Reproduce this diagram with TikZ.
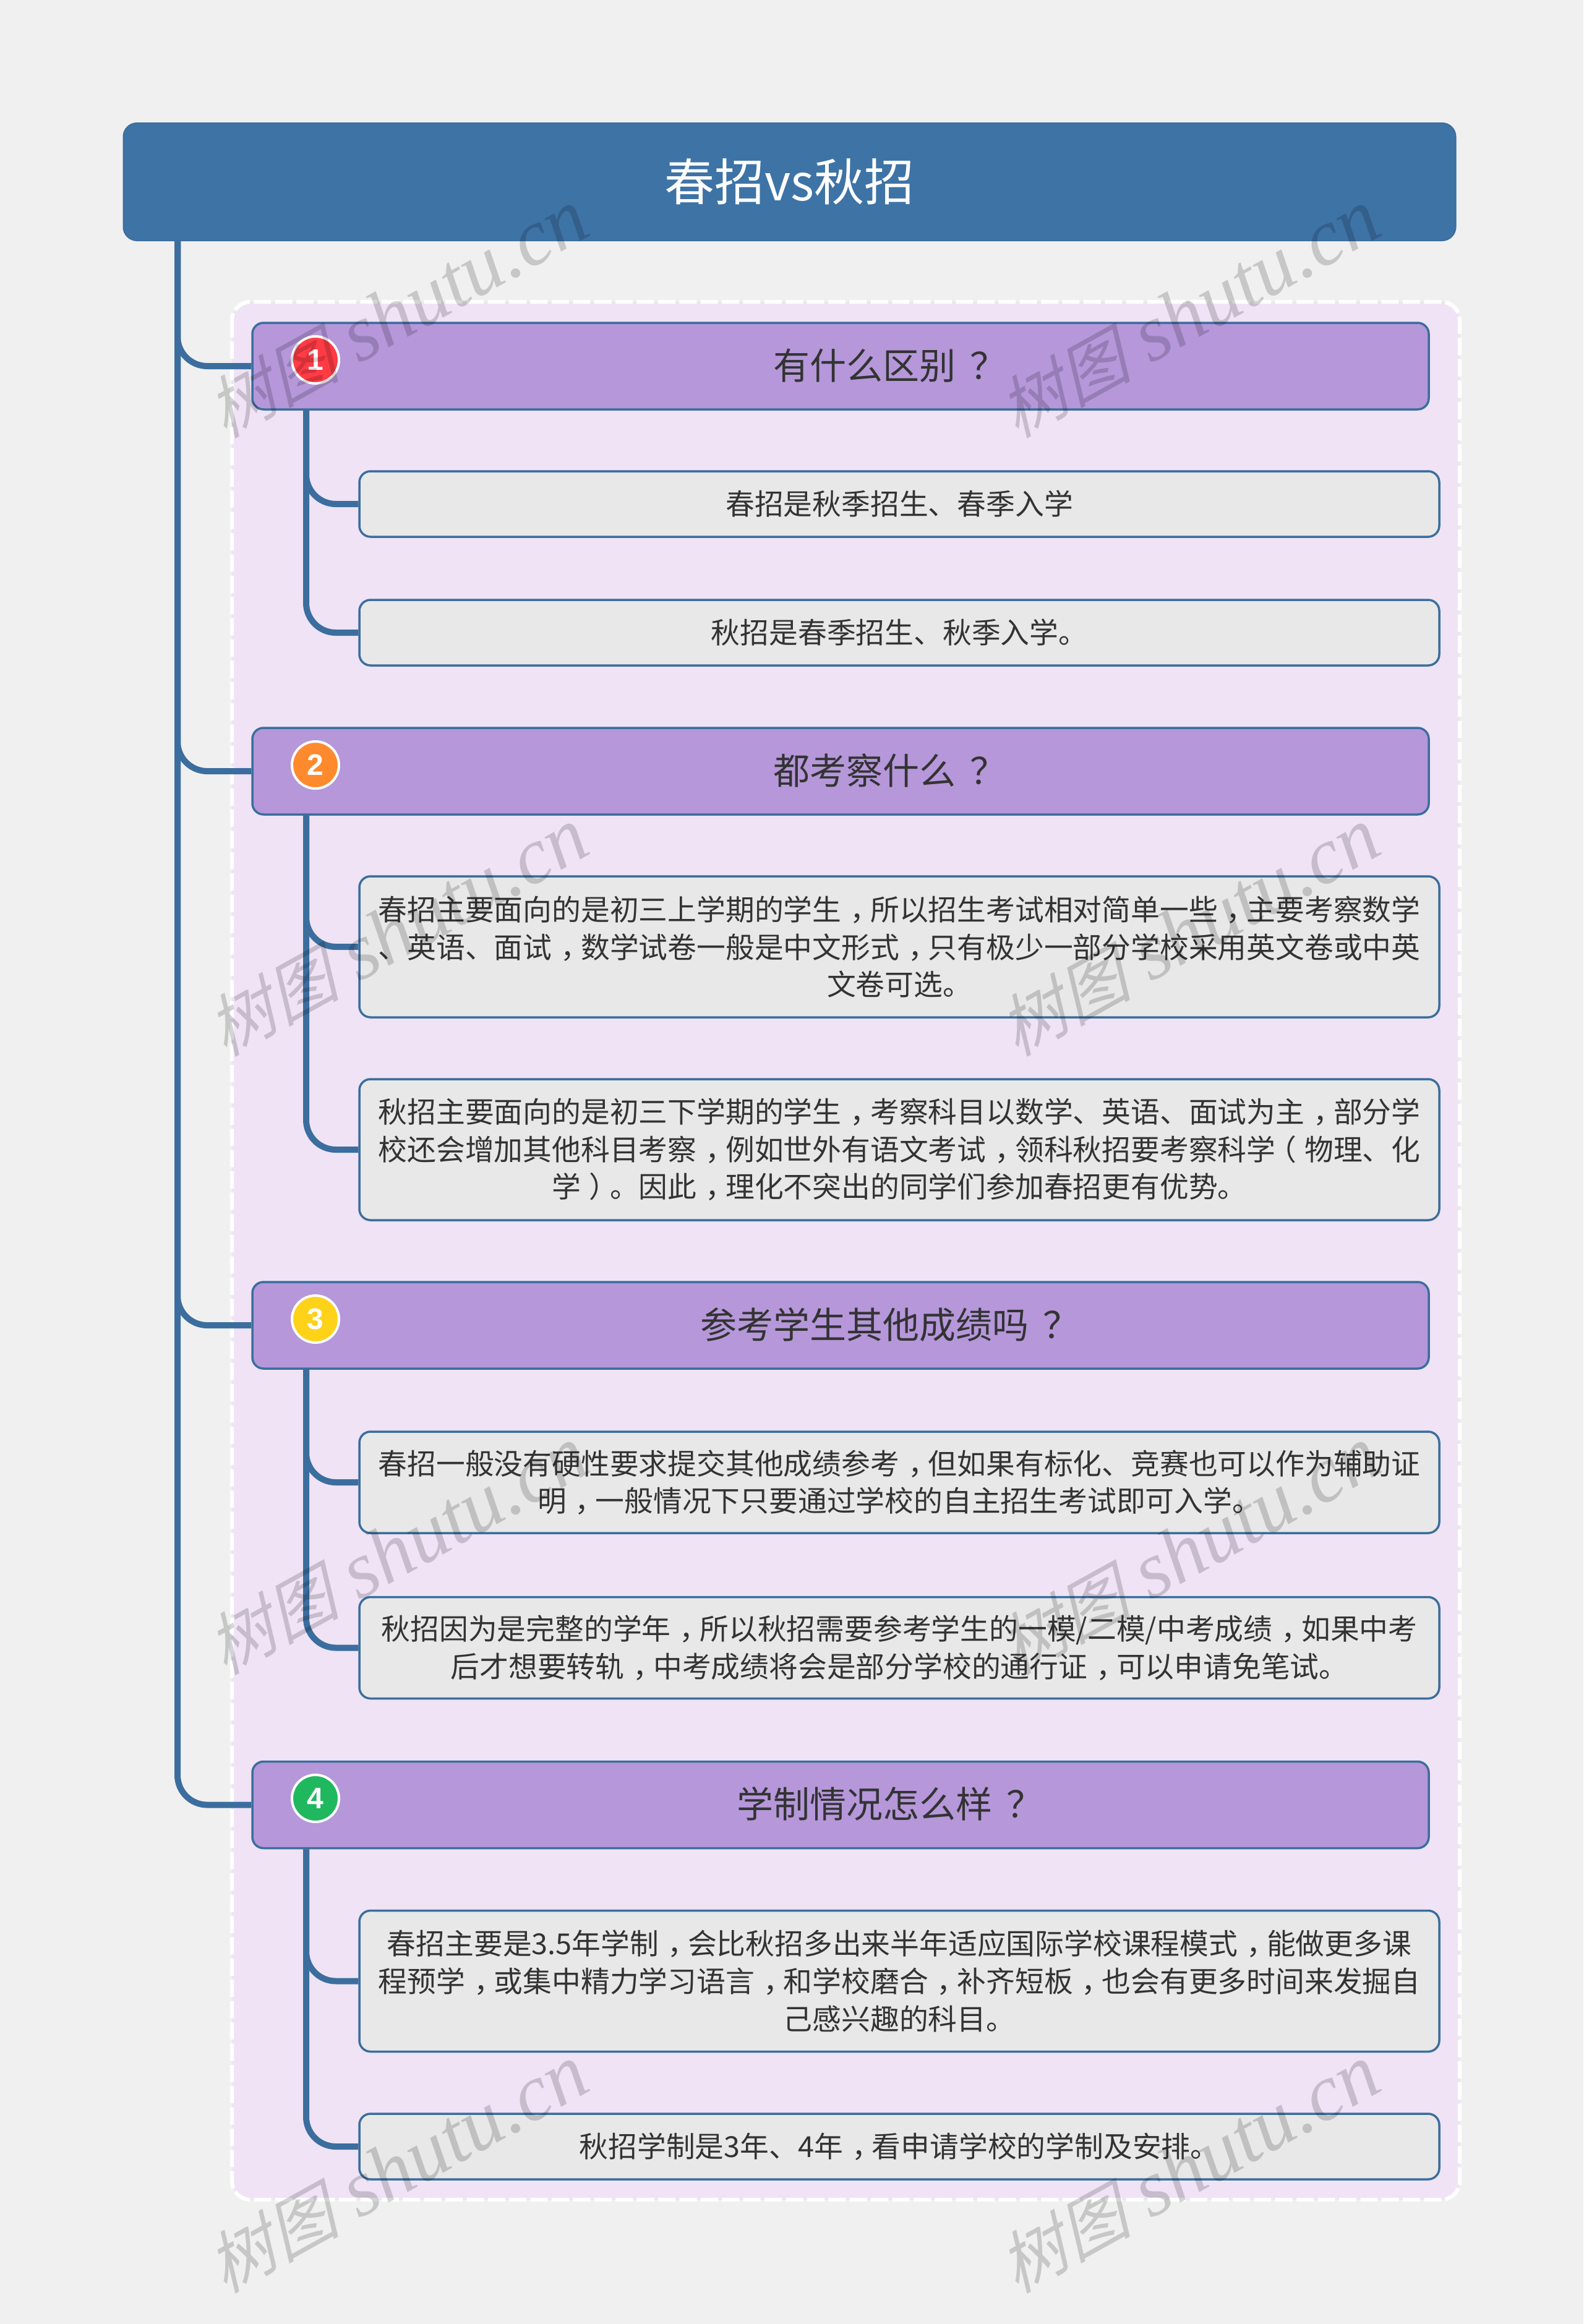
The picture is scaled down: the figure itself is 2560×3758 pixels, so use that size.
\documentclass[tikz,border=0pt]{standalone}
\usepackage{fontspec}
\setmainfont{Noto Sans CJK SC}
\newfontfamily\wmcjk[FakeSlant=0.28]{Noto Sans CJK SC}
\newfontfamily\wmlat{Liberation Serif}
\newfontfamily\numfont{Liberation Sans}
\newcommand\cma{\makebox[1em][l]{\hspace{.3em}，}}
\newcommand\qm{\makebox[1em][l]{\hspace{.4em}？}}
\newcommand\lpr{\makebox[1em][r]{（\hspace{.28em}}}
\newcommand\rpr{\makebox[1em][l]{\hspace{.28em}）}}
\definecolor{pagebg}{HTML}{F0F0F0}
\definecolor{panelbg}{HTML}{EFE3F5}
\definecolor{rootfill}{HTML}{3E73A6}
\definecolor{edge}{HTML}{3B6E9E}
\definecolor{topicfill}{HTML}{B597DA}
\definecolor{subfill}{HTML}{E8E8E8}
\definecolor{ink}{HTML}{333333}
\definecolor{bred}{HTML}{FF3B45}
\definecolor{borange}{HTML}{FF8A2E}
\definecolor{byellow}{HTML}{FFD21A}
\definecolor{bgreen}{HTML}{1FB85E}
\tikzset{
  rootbox/.style={draw=edge,fill=rootfill,line width=1pt,rounded corners=11pt,minimum width=1077pt,minimum height=95pt,inner sep=0pt,text=white,font=\fontsize{40.5pt}{50pt}\selectfont},
  topicbox/.style={draw=edge,fill=topicfill,line width=1.75pt,rounded corners=9pt,minimum width=951pt,minimum height=70pt,inner sep=0pt},
  topictext/.style={inner sep=0pt,text=ink,font=\fontsize{29.5pt}{35pt}\selectfont},
  subbox/.style={draw=edge,fill=subfill,line width=1.75pt,rounded corners=9pt,minimum width=873pt,inner sep=0pt,text=ink,align=center,font=\fontsize{23.4pt}{30.3pt}\selectfont},
  conn/.style={draw=edge,line width=5pt,rounded corners=24pt},
  badge/.style={circle,draw=white,line width=2pt,minimum size=38pt,inner sep=0pt,text=white,font=\numfont\bfseries\fontsize{24pt}{24pt}\selectfont},
  wmark/.style={rotate=29,inner sep=0pt,text=black,text opacity=.17},
}
\begin{document}
\begin{tikzpicture}[x=.5pt,y=-.5pt]
\useasboundingbox (0,0) rectangle (2560,3758);
\fill[pagebg] (0,0) rectangle (2560,3758);
% panel
\draw[fill=panelbg,draw=white,line width=3.2pt,rounded corners=15pt,dash pattern=on 14pt off 3.2pt] (375,488) rectangle (2360,3557);
\coordinate (tx) at (287,0);
\coordinate (sx) at (495,0);
% nodes
\node[rootbox] (root) at (1276.5,294) {春招vs秋招};
\node[topicbox] (t1) at (1359,592) {};
\node[topicbox] (t2) at (1359,1247) {};
\node[topicbox] (t3) at (1359,2143) {};
\node[topicbox] (t4) at (1359,2918.5) {};
\node[subbox,minimum height=53pt] (s11) at (1454,815) {春招是秋季招生、春季入学};
\node[subbox,minimum height=53pt] (s12) at (1454,1023) {秋招是春季招生、秋季入学。};
\node[subbox,minimum height=114pt] (s21) at (1454,1531) {春招主要面向的是初三上学期的学生\cma 所以招生考试相对简单一些\cma 主要考察数学\\、英语、面试\cma 数学试卷一般是中文形式\cma 只有极少一部分学校采用英文卷或中英\\文卷可选。};
\node[subbox,minimum height=114pt] (s22) at (1454,1859) {秋招主要面向的是初三下学期的学生\cma 考察科目以数学、英语、面试为主\cma 部分学\\校还会增加其他科目考察\cma 例如世外有语文考试\cma 领科秋招要考察科学\lpr 物理、化\\学\rpr 。因此\cma 理化不突出的同学们参加春招更有优势。};
\node[subbox,minimum height=82pt] (s31) at (1454,2397) {春招一般没有硬性要求提交其他成绩参考\cma 但如果有标化、竞赛也可以作为辅助证\\明\cma 一般情况下只要通过学校的自主招生考试即可入学。};
\node[subbox,minimum height=82pt] (s32) at (1454,2664.5) {秋招因为是完整的学年\cma 所以秋招需要参考学生的一模/二模/中考成绩\cma 如果中考\\后才想要转轨\cma 中考成绩将会是部分学校的通行证\cma 可以申请免笔试。};
\node[subbox,minimum height=114pt] (s41) at (1454,3203.5) {春招主要是3.5年学制\cma 会比秋招多出来半年适应国际学校课程模式\cma 能做更多课\\程预学\cma 或集中精力学习语言\cma 和学校磨合\cma 补齐短板\cma 也会有更多时间来发掘自\\己感兴趣的科目。};
\node[subbox,minimum height=53pt] (s42) at (1454,3471) {秋招学制是3年、4年\cma 看申请学校的学制及安排。};
% connectors
\draw[conn] (root.south -| tx) |- (t1.west);
\draw[conn] (root.south -| tx) |- (t2.west);
\draw[conn] (root.south -| tx) |- (t3.west);
\draw[conn] (root.south -| tx) |- (t4.west);
\draw[conn] (t1.south -| sx) |- (s11.west);
\draw[conn] (t1.south -| sx) |- (s12.west);
\draw[conn] (t2.south -| sx) |- (s21.west);
\draw[conn] (t2.south -| sx) |- (s22.west);
\draw[conn] (t3.south -| sx) |- (s31.west);
\draw[conn] (t3.south -| sx) |- (s32.west);
\draw[conn] (t4.south -| sx) |- (s41.west);
\draw[conn] (t4.south -| sx) |- (s42.west);
% topic labels
\node[topictext] (l1) at (1427,591) {有什么区别\qm};
\node[topictext] (l2) at (1427,1246) {都考察什么\qm};
\node[topictext] (l3) at (1427,2142) {参考学生其他成绩吗\qm};
\node[topictext] (l4) at (1427,2917) {学制情况怎么样\qm};
% badges
\node[badge,fill=bred] (b1) at (510,582) {1};
\node[badge,fill=borange] (b2) at (510,1237) {2};
\node[badge,fill=byellow] (b3) at (510,2133) {3};
\node[badge,fill=bgreen] (b4) at (510,2908) {4};
% watermarks
\foreach \wx/\wy [count=\wi] in {642/508,1922/508,642/1508,1922/1508,642/2508,1922/2508,642/3508,1922/3508}
  \node[wmark] (w\wi) at (\wx,\wy) {{\wmcjk\fontsize{54pt}{60pt}\selectfont 树图}{\wmlat\itshape\fontsize{64.5pt}{70pt}\selectfont{} shutu.cn}};
\end{tikzpicture}
\end{document}
